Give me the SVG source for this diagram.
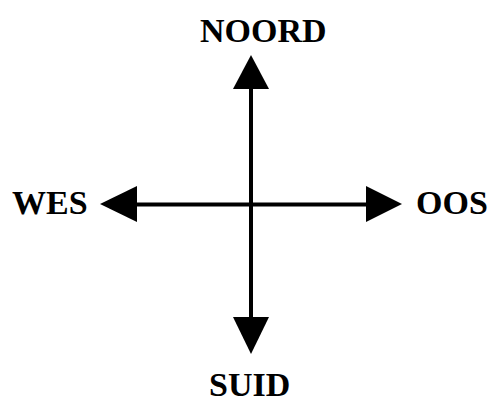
<svg xmlns="http://www.w3.org/2000/svg" width="490" height="403" viewBox="0 0 490 403">
<style>
.lbl{font-family:"Liberation Serif","Times New Roman",serif;font-weight:bold;font-size:34px;fill:#000}
.ln{stroke:#000;stroke-width:4;fill:none}
.hd{fill:#000}
</style>
<rect width="490" height="403" fill="#fff"/>
<g id="connectors">
<line class="ln" x1="251" y1="88" x2="251" y2="318"/>
<line class="ln" x1="136" y1="204.5" x2="367" y2="204.5"/>
<polygon class="hd" points="251,55 233,89 269,89"/>
<polygon class="hd" points="251,354 233,317 269,317"/>
<polygon class="hd" points="100,204 137,186 137,222"/>
<polygon class="hd" points="402,204 366,186 366,222"/>
</g>
<g id="noord"><text class="lbl" x="200" y="42">NOORD</text></g>
<g id="wes"><text class="lbl" x="12" y="214">WES</text></g>
<g id="oos"><text class="lbl" x="416" y="214">OOS</text></g>
<g id="suid"><text class="lbl" x="209" y="396">SUID</text></g>
</svg>
